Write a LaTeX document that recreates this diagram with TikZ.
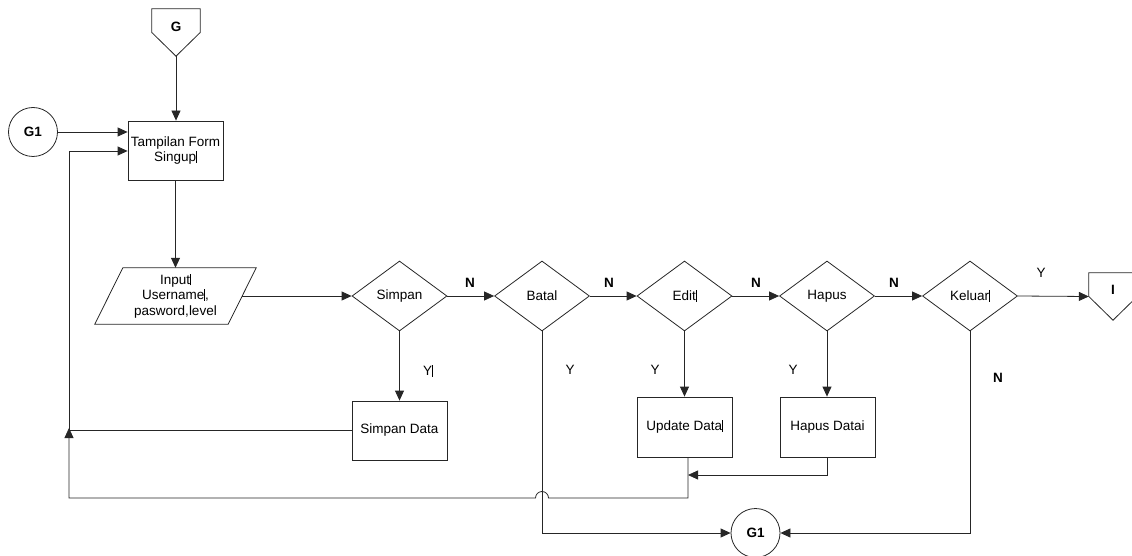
\documentclass[tikz,border=0pt]{standalone}
\usepackage{fontspec}
\setmainfont{Liberation Sans}
\usetikzlibrary{arrows.meta,shapes.geometric,calc}
% thin text cursor mark
\newcommand{\crsr}{\rule[-1pt]{0.6pt}{11.5pt}}
\begin{document}
\begin{tikzpicture}[x=1pt,y=-1pt,
  every node/.style={font=\fontsize{13.5}{15.5}\selectfont, align=center, inner sep=0pt},
  line/.style={draw=black!85, line width=0.8pt},
  arr/.style={line, -{Triangle[length=10pt,width=9pt]}},
  procbox/.style={rectangle, draw=black!85, line width=0.8pt, minimum width=95pt, minimum height=59pt},
  decision/.style={diamond, draw=black!85, line width=0.8pt, minimum width=95pt, minimum height=70pt},
  onpage/.style={circle, draw=black!85, line width=0.8pt, minimum size=49pt, font=\fontsize{13.5}{15.5}\selectfont\bfseries},
  offpage/.style={rectangle, minimum width=48pt, minimum height=47pt},
  boldlbl/.style={font=\fontsize{13.5}{15.5}\selectfont\bfseries},
  plainlbl/.style={font=\fontsize{13.5}{15.5}\selectfont}
]
\useasboundingbox (0,0) rectangle (1132,556);

% ---- off-page connectors ----
\node[offpage] (G) at (176,32.5) {};
\node[boldlbl] (Gt) at (176,27) {G};
\draw[line] (G.north west) -- (G.north east) -- (G.east) -- (G.south) -- (G.west) -- cycle;

\node[offpage] (I) at (1113,296.5) {};
\node[boldlbl] (It) at (1113,290) {I};
\draw[line] (I.north west) -- (I.north east) -- (I.east) -- (I.south) -- (I.west) -- cycle;

% ---- on-page connectors ----
\node[onpage] (g1a) at (33,132) {G1};
\node[onpage] (g1b) at (755.5,533) {G1};

% ---- process boxes ----
\node[procbox] (tampil) at (175.5,150.5) {Tampilan Form\\Singup\crsr};
\node[procbox] (sdata) at (399.5,430.5) {Simpan Data};
\node[procbox, minimum height=60pt] (update) at (684.5,427) {Update Data\crsr};
\node[procbox, minimum height=60pt] (hdata) at (827.5,427) {Hapus Datai};

% ---- input (parallelogram) ----
\node[rectangle, minimum width=133pt, minimum height=56pt] (inp) at (175.5,296)
  {Input\crsr\\Username\crsr,\\pasword,level};
\draw[line] ($(inp.south west)+(-14,0)$) -- ($(inp.north west)+(14,0)$)
  -- ($(inp.north east)+(14,0)$) -- ($(inp.south east)+(-14,0)$) -- cycle;

% ---- decisions ----
\node[decision] (simpan) at (399.5,296) {Simpan};
\node[decision] (batal) at (542,296) {Batal};
\node[decision] (edit) at (684.5,296) {Edit\crsr};
\node[decision] (hapus) at (827,296) {Hapus};
\node[decision] (keluar) at (970,296) {Keluar\crsr};

% ---- main flow ----
\draw[arr] (G.south) -- (tampil.north -| G.south);
\draw[arr] (g1a.east) -- (g1a -| tampil.west);
\draw[arr] (tampil.south) -- (tampil.south |- inp.north);
\draw[arr] (inp.east) -- (simpan.west);
\draw[arr] (simpan.east) -- (batal.west);
\draw[arr] (batal.east) -- (edit.west);
\draw[arr] (edit.east) -- (hapus.west);
\draw[arr] (hapus.east) -- (keluar.west);
\draw[arr] (keluar.east) -- (I.west);

\node[boldlbl] (n1) at (470,283) {N};
\node[boldlbl] (n2) at (609,283) {N};
\node[boldlbl] (n3) at (756,283) {N};
\node[boldlbl] (n4) at (894,283) {N};
\node[plainlbl] (y5) at (1041,273) {Y};

% ---- yes branches ----
\draw[arr] (simpan.south) -- (sdata.north);
\draw[arr] (edit.south) -- (update.north);
\draw[arr] (hapus.south) -- (hdata.north -| hapus.south);
\node[plainlbl] (y1) at (428,371) {Y\crsr};
\node[plainlbl] (y2) at (570,370) {Y};
\node[plainlbl] (y3) at (655,370) {Y};
\node[plainlbl] (y4) at (793,370) {Y};
\node[boldlbl] (n5) at (998,378) {N};

% ---- return paths ----
\coordinate (fbk) at (69,151);
\coordinate (ubot) at ($(update.south)+(3.5,0)$);
\draw[arr] (sdata.west) -| (fbk) -- (fbk -| tampil.west);
\draw[arr] (hdata.south) |- (ubot |- 0,475);
\draw[arr] (ubot) |- (548.5,498) arc[start angle=0, end angle=180, radius=6.5pt]
  -- (69,498) -- (69,428);

% ---- exits to G1 ----
\draw[arr] (batal.south) |- (g1b.west);
\draw[arr] (keluar.south) |- (g1b.east);
\end{tikzpicture}
\end{document}
